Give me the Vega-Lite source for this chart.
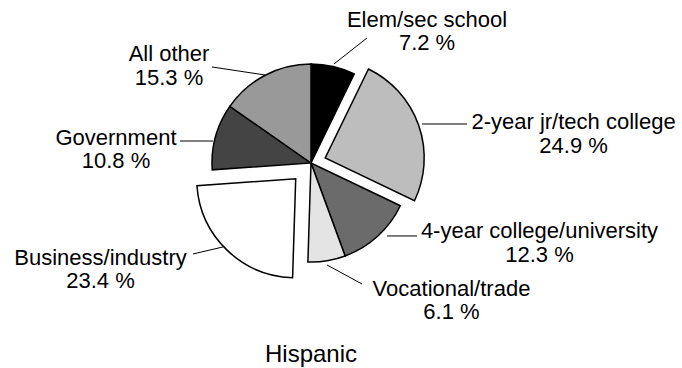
{
  "$schema": "https://vega.github.io/schema/vega-lite/v6.json",
  "width": 682,
  "height": 368,
  "padding": 0,
  "autosize": {"type": "none"},
  "background": "white",
  "config": {"view": {"stroke": null}, "font": "Liberation Sans"},
  "data": {"values": [
    {"i": 1, "cat": "Elem/sec school", "pct": 7.2, "label": ["Elem/sec school", "7.2 %"], "lx": 1.172, "ly": 1.374, "ax": 0.232, "ay": 1.0, "bx": 0.566, "by": 1.263},
    {"i": 2, "cat": "2-year jr/tech college", "pct": 24.9, "label": ["2-year jr/tech college", "24.9 %"], "lx": 2.652, "ly": 0.343, "ax": 1.121, "ay": 0.394, "bx": 1.576, "by": 0.394},
    {"i": 3, "cat": "4-year college/university", "pct": 12.3, "label": ["4-year college/university", "12.3 %"], "lx": 2.308, "ly": -0.758, "ax": 0.768, "ay": -0.737, "bx": 1.071, "by": -0.737},
    {"i": 4, "cat": "Vocational/trade", "pct": 6.1, "label": ["Vocational/trade", "6.1 %"], "lx": 1.419, "ly": -1.343, "ax": 0.162, "ay": -1.03, "bx": 0.515, "by": -1.222},
    {"i": 5, "cat": "Business/industry", "pct": 23.4, "label": ["Business/industry", "23.4 %"], "lx": -2.126, "ly": -1.03, "ax": -1.192, "ay": -0.919, "bx": -0.889, "by": -0.848},
    {"i": 6, "cat": "Government", "pct": 10.8, "label": ["Government", "10.8 %"], "lx": -1.97, "ly": 0.182, "ax": -1.323, "ay": 0.222, "bx": -0.99, "by": 0.222},
    {"i": 7, "cat": "All other", "pct": 15.3, "label": ["All other", "15.3 %"], "lx": -1.434, "ly": 1.03, "ax": -1.0, "ay": 0.97, "bx": -0.465, "by": 0.889}
  ]},
  "transform": [
    {"stack": "pct", "groupby": [], "sort": [{"field": "i", "order": "ascending"}], "as": ["t0", "t1"]}
  ],
  "layer": [
    {
      "transform": [{"filter": "datum.i != 2 && datum.i != 5"}],
      "mark": {"type": "arc", "radius": 99, "stroke": "black", "strokeWidth": 1.5, "strokeJoin": "miter"},
      "encoding": {
        "x": {"datum": 0, "type": "quantitative", "scale": {"domain": [-3.1414, 3.7475], "nice": false, "zero": false}, "axis": null},
        "y": {"datum": 0, "type": "quantitative", "scale": {"domain": [-2.0707, 1.6465], "nice": false, "zero": false}, "axis": null},
        "theta": {"field": "t0", "type": "quantitative", "scale": {"domain": [0, 100]}},
        "theta2": {"field": "t1"},
        "fill": {"field": "cat", "type": "nominal", "legend": null, "scale": {"domain": ["Elem/sec school", "2-year jr/tech college", "4-year college/university", "Vocational/trade", "Business/industry", "Government", "All other"], "range": ["#000000", "#bdbdbd", "#6b6b6b", "#e4e4e4", "#ffffff", "#444444", "#999999"]}}
      }
    },
    {
      "transform": [{"filter": "datum.i == 2"}],
      "mark": {"type": "arc", "radius": 99, "stroke": "black", "strokeWidth": 1.5, "strokeJoin": "miter", "xOffset": 14.2, "yOffset": -5},
      "encoding": {
        "x": {"datum": 0, "type": "quantitative", "axis": null},
        "y": {"datum": 0, "type": "quantitative", "axis": null},
        "theta": {"field": "t0", "type": "quantitative", "scale": {"domain": [0, 100]}},
        "theta2": {"field": "t1"},
        "fill": {"field": "cat", "type": "nominal", "legend": null}
      }
    },
    {
      "transform": [{"filter": "datum.i == 5"}],
      "mark": {"type": "arc", "radius": 99, "stroke": "black", "strokeWidth": 1.5, "strokeJoin": "miter", "xOffset": -15.3, "yOffset": 15.8},
      "encoding": {
        "x": {"datum": 0, "type": "quantitative", "axis": null},
        "y": {"datum": 0, "type": "quantitative", "axis": null},
        "theta": {"field": "t0", "type": "quantitative", "scale": {"domain": [0, 100]}},
        "theta2": {"field": "t1"},
        "fill": {"field": "cat", "type": "nominal", "legend": null}
      }
    },
    {
      "mark": {"type": "rule", "color": "black", "strokeWidth": 1},
      "encoding": {
        "x": {"field": "ax", "type": "quantitative", "axis": null},
        "y": {"field": "ay", "type": "quantitative", "axis": null},
        "x2": {"field": "bx"},
        "y2": {"field": "by"}
      }
    },
    {
      "mark": {"type": "text", "font": "Liberation Sans", "fontSize": 22, "align": "center", "baseline": "alphabetic", "lineHeight": 23.5, "color": "black"},
      "encoding": {
        "x": {"field": "lx", "type": "quantitative", "axis": null},
        "y": {"field": "ly", "type": "quantitative", "axis": null},
        "text": {"field": "label"}
      }
    },
    {
      "transform": [{"filter": "datum.i == 1"}],
      "mark": {"type": "text", "font": "Liberation Sans", "fontSize": 24, "align": "center", "baseline": "alphabetic", "color": "black"},
      "encoding": {
        "x": {"datum": 0, "type": "quantitative", "axis": null},
        "y": {"datum": -2.0101, "type": "quantitative", "axis": null},
        "text": {"value": "Hispanic"}
      }
    }
  ]
}
